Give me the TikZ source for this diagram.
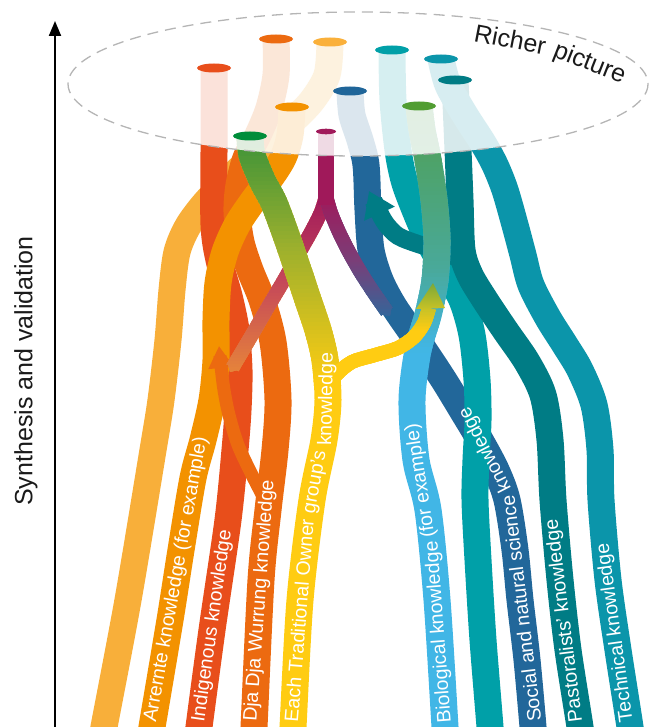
\documentclass[tikz,border=0pt]{standalone}
\usepackage{fontspec}
\setmainfont{Liberation Sans}
\usetikzlibrary{arrows.meta}

\definecolor{cLO}{HTML}{F8AF3A}
\definecolor{cR}{HTML}{E84E1B}
\definecolor{cDO}{HTML}{EC6A10}
\definecolor{cO}{HTML}{F39200}
\definecolor{cGYa}{HTML}{3A9239}
\definecolor{cGYb}{HTML}{9DB02D}
\definecolor{cY}{HTML}{FFCC12}
\definecolor{cM}{HTML}{A0195A}
\definecolor{cMLb}{HTML}{C4465A}
\definecolor{cMLc}{HTML}{E6843B}
\definecolor{cMRb}{HTML}{7A3E78}
\definecolor{cMRc}{HTML}{33669A}
\definecolor{cDB}{HTML}{22679A}
\definecolor{cT}{HTML}{00A0A8}
\definecolor{cDT}{HTML}{007C85}
\definecolor{cTB}{HTML}{0B95AA}
\definecolor{cLBa}{HTML}{509F50}
\definecolor{cLBb}{HTML}{49A99A}
\definecolor{cLB}{HTML}{41B6E6}
\definecolor{cYAbase}{HTML}{C8C226}
\definecolor{cYAtip}{HTML}{7BA838}
\definecolor{capGY}{HTML}{008D3A}
\definecolor{capLB}{HTML}{519D32}
\definecolor{capLO}{HTML}{FAB03A}
\definecolor{capDB}{HTML}{1F6599}
\definecolor{dashgray}{HTML}{B5B5B5}
\definecolor{txt}{HTML}{1A1A1A}

% vertical colour bands: #1 style, #2 #3 #4 colours, #5 #6 #7 their y, #8 path
\newcommand\bandgrad[8]{%
  \foreach \bi in {0,...,59}{%
    \pgfmathsetmacro\ya{#5+(#7-#5)*\bi/60}%
    \pgfmathsetmacro\yb{#5+(#7-#5)*(\bi+1)/60}%
    \pgfmathsetmacro\yc{min(\ya,\yb)-0.4}%
    \pgfmathsetmacro\yd{max(\ya,\yb)+0.4}%
    \pgfmathsetmacro\gf{(\bi+0.5)/60}%
    \pgfmathsetmacro\gs{(#6-#5)/(#7-#5)}%
    \ifdim\gf pt<\gs pt
      \pgfmathsetmacro\gp{100*\gf/\gs}\colorlet{gc}{#3!\gp!#2}%
    \else
      \pgfmathsetmacro\gp{100*(\gf-\gs)/(1-\gs)}\colorlet{gc}{#4!\gp!#3}%
    \fi
    \begin{scope}
      \clip (0,\yc) rectangle (656,\yd);
      \draw[#1, draw=gc] #8;
    \end{scope}
  }%
}

\tikzset{
  strand/.style={line width=27pt, line cap=butt, line join=round},
  branch/.style={line width=14pt, line cap=butt, -{Triangle[width=14pt,length=7pt]}},
  capsize/.style={x radius=17, y radius=4.5},
  lbl/.style={text=white, inner sep=0pt, font=\fontsize{19.5}{20}\selectfont},
  bigtxt/.style={text=txt, inner sep=0pt, font=\fontsize{25}{25}\selectfont}
}

\begin{document}
\begin{tikzpicture}[x=1pt, y=-1pt]
\useasboundingbox (0,0) rectangle (656,727);

% strands, back to front
\draw[strand, cLO] plot[smooth] coordinates {(330,42) (327,75) (311,102) (285,128) (258,152) (230,178) (206,202) (188,226) (177,252) (172,290) (168,340) (161,400) (153,450) (128,600) (104,727) (101,745)};
\draw[strand, cR] plot[smooth] coordinates {(214,68) (214,150) (214,225) (219,260) (229,296) (236,330) (239,370) (238,410) (235,450) (228,520) (212,630) (199,727) (197,745)};
\draw[strand, cDO] plot[smooth] coordinates {(276,39) (276,75) (269,108) (258,135) (246,158) (239,185) (237,212) (241,242) (250,270) (262,300) (273,342) (278,400) (275,450) (268,510) (261,580) (254,727) (253,745)};
\draw[strand, cO] plot[smooth] coordinates {(292,107) (290,135) (283,158) (269,180) (253,201) (237,225) (225,252) (218,283) (216,320) (216,360) (212,400) (203,440) (193,478) (181,550) (170,620) (152,727) (149,745)};
\draw[line width=13pt, cDO, -{Triangle[width=24pt,length=22pt]}] plot[smooth] coordinates {(266,502) (252,475) (238,445) (229,415) (224,390) (221,366) (219,346)};
% magenta branch towards the orange strands
\draw[branch, cMLc] plot[smooth] coordinates {(326,196) (321,212) (311,232) (298,255) (284,280) (268,307) (253,333) (240,355) (230,372)};
\bandgrad{branch}{cM}{cMLb}{cMLc}{196}{280}{374}{plot[smooth] coordinates {(326,196) (321,212) (311,232) (298,255) (284,280) (268,307) (253,333) (240,355) (230,372)}}
% green to yellow strand
\draw[strand, cY] plot[smooth] coordinates {(250,136) (252,155) (262,180) (274,203) (286,235) (297,267) (308,300) (318,330) (325,360) (328,400) (324,440) (312,500) (300,600) (293,727) (292,745)};
\bandgrad{strand}{cGYa}{cGYb}{cY}{136}{250}{385}{plot[smooth] coordinates {(250,136) (252,155) (262,180) (274,203) (286,235) (297,267) (308,300) (318,330) (325,360) (328,400) (324,440) (312,500) (300,600) (293,727) (292,745)}}
\draw[strand, cDB] plot[smooth] coordinates {(350,91) (352,115) (360,140) (366,165) (368,210) (371,250) (380,280) (393,305) (410,330) (426,353) (445,382) (462,410) (480,440) (496,470) (507,500) (515,550) (520,600) (527,660) (533,727) (534,745)};
% magenta branch towards the blue strand
\draw[branch, cMRc] plot[smooth] coordinates {(326,196) (331,213) (339,232) (349,252) (361,273) (374,293) (390,316)};
\bandgrad{branch}{cM}{cMRb}{cMRc}{196}{262}{318}{plot[smooth] coordinates {(326,196) (331,213) (339,232) (349,252) (361,273) (374,293) (390,316)}}
\draw[line width=16pt, cM] plot[smooth] coordinates {(326,131) (326,170) (326,205)};
\draw[strand, cT] plot[smooth] coordinates {(392,50) (393,100) (398,150) (404,180) (413,205) (428,240) (446,272) (462,300) (472,335) (477,380) (478,420) (476,460) (475,500) (478,560) (483,640) (490,727) (491,745)};
\draw[strand, cDT] plot[smooth] coordinates {(455,80) (458,150) (460,200) (462,250) (470,275) (485,300) (505,330) (527,362) (543,395) (550,440) (553,500) (560,580) (568,650) (580,727) (582,745)};
\draw[line width=18pt, cDT, -{Triangle[width=32pt,length=25pt]}] plot[smooth] coordinates {(470,265) (445,252) (418,244) (398,236) (386,224) (378,210) (369,191)};
% green to light blue strand
\draw[strand, cLB] plot[smooth] coordinates {(419,106) (422,130) (428,160) (434,200) (437,240) (435,280) (428,315) (418,350) (412,400) (416,460) (428,510) (437,600) (445,727) (446,745)};
\bandgrad{strand}{cLBa}{cLBb}{cLB}{106}{270}{352}{plot[smooth] coordinates {(419,106) (422,130) (428,160) (434,200) (437,240) (435,280) (428,315) (418,350) (412,400) (416,460) (428,510) (437,600) (445,727) (446,745)}}
% yellow arrow
\draw[line width=14pt, cY] plot[smooth] coordinates {(326,392) (336,375) (352,362) (375,355) (398,348) (414,337) (424,323) (429,308)};
\bandgrad{line width=14pt}{cY}{cY}{cYAbase}{392}{330}{308}{plot[smooth] coordinates {(326,392) (336,375) (352,362) (375,355) (398,348) (414,337) (424,323) (429,308)}}
\shade[top color=cYAtip, bottom color=cYAbase] (433,283) -- (445,308) -- (416,309) -- cycle;
\draw[strand, cTB] plot[smooth] coordinates {(441,59) (448,85) (465,115) (483,143) (495,165) (505,190) (515,225) (523,255) (531,285) (548,318) (565,345) (580,370) (594,405) (600,450) (601,500) (608,580) (618,650) (630,727) (632,745)};

% richer picture ellipse
\fill[white, opacity=0.84] (358,84) ellipse[x radius=290, y radius=72];
\draw[dashgray, line width=1.3pt, dash pattern=on 11pt off 7pt] (358,84) ellipse[x radius=290, y radius=72];

% caps
\fill[cR] (214,68) ellipse[capsize];
\fill[cDO] (276,39) ellipse[capsize];
\fill[capLO] (330,42) ellipse[capsize];
\fill[cO] (292,107) ellipse[capsize];
\fill[capGY] (250,136) ellipse[capsize];
\fill[cM] (326,131.5) ellipse[x radius=10, y radius=2.8];
\fill[capDB] (350,91) ellipse[capsize];
\fill[cT] (392,50) ellipse[capsize];
\fill[cTB] (441,59) ellipse[capsize];
\fill[cDT] (455,80) ellipse[capsize];
\fill[capLB] (419,106) ellipse[capsize];

% strand labels
\node[lbl, rotate=79.9] (l1) at (176.4,579.5) {Arrernte knowledge (for example)};
\node[lbl, rotate=82.0] (l2) at (212.6,626) {Indigenous knowledge};
\node[lbl, rotate=85.9] (l3) at (260.0,600.7) {Dja Dja Wurrung knowledge};
\node[lbl, rotate=85.5] (l4a) at (299.0,620.3) {Each Traditional Owner};
\node[lbl, rotate=79.7] (l4b) at (315.6,482.2) {group’s};
\node[lbl, rotate=89.0] (l4c) at (327.0,399.2) {knowledge};
\node[lbl, rotate=94.3] (l5a) at (439.0,632) {Biological knowledge};
\node[lbl, rotate=98.6] (l5b) at (421.0,480.8) {(for example)};
\node[lbl, rotate=96.8] (l6a) at (521.0,608.8) {Social and natural science};
\node[lbl, rotate=117.3] (l6b) at (485.5,449.5) {knowledge};
\node[lbl, rotate=97.0] (l7) at (564.7,620.7) {Pastoralists’ knowledge};
\node[lbl, rotate=97.8] (l8) at (615.5,632.6) {Technical knowledge};

% richer picture label
\node[bigtxt, anchor=base west, rotate=-10.9] (rich1) at (473,41) {Richer};
\node[bigtxt, anchor=base west, rotate=-21.5] (rich2) at (552,56) {picture};

% axis
\coordinate (axb) at (55,727);
\coordinate (axt) at (55,21);
\draw[line width=2pt, -{Triangle[width=12pt,length=15pt]}] (axb) -- (axt);
\node[bigtxt, rotate=90] (axlabel) at (26,371) {Synthesis and validation};
\end{tikzpicture}
\end{document}
